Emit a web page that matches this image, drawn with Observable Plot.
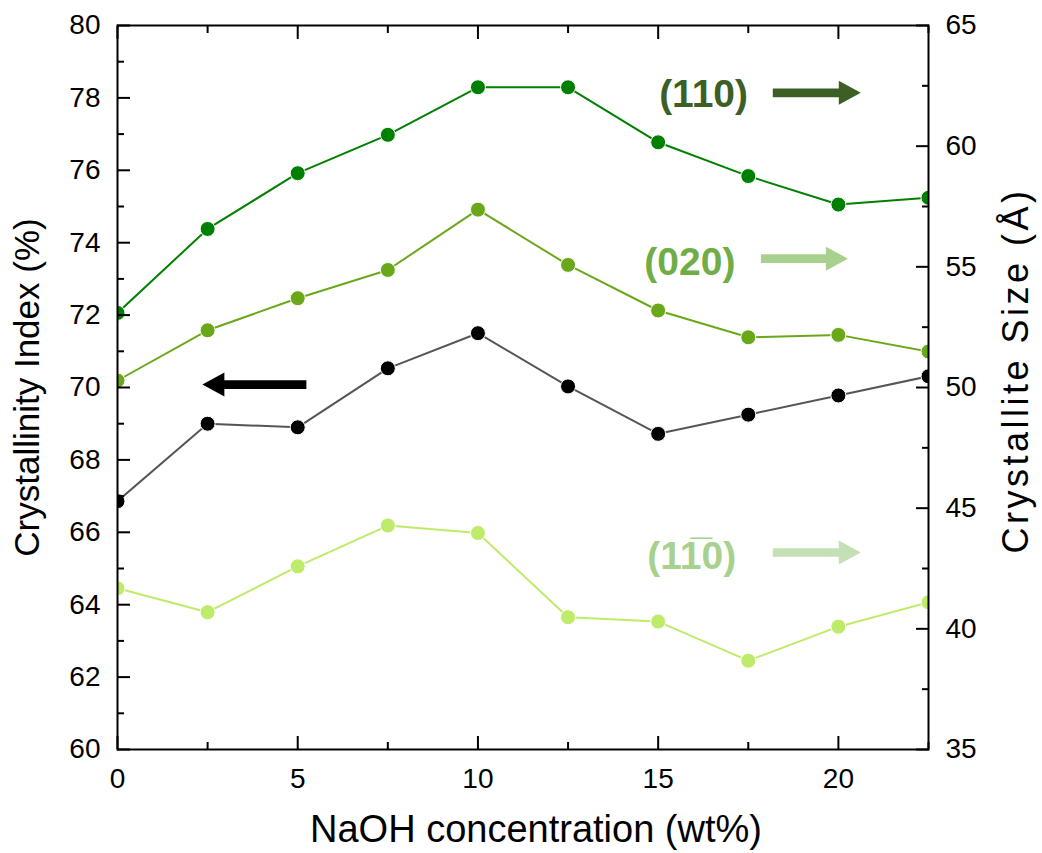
<!DOCTYPE html>
<html>
<head>
<meta charset="utf-8">
<script src="https://cdn.jsdelivr.net/npm/d3@7"></script>
<script src="https://cdn.jsdelivr.net/npm/@observablehq/plot@0.6"></script>
<style>
  html, body { margin: 0; padding: 0; background: #fff; }
  #chart { width: 1042px; height: 853px; }
</style>
</head>
<body>
<div id="chart"></div>
<script>
// ---- data ----
const naoh = [0, 2.5, 5, 7.5, 10, 12.5, 15, 17.5, 20, 22.5];
const crystallinity = [66.86, 69.0, 68.9, 70.53, 71.50, 70.03, 68.72, 69.25, 69.78, 70.31];
const size110 = [53.09, 56.57, 58.88, 60.47, 62.44, 62.44, 60.16, 58.76, 57.58, 57.86];
const size020 = [50.29, 52.37, 53.70, 54.87, 57.37, 55.08, 53.19, 52.08, 52.18, 51.49];
const size1m10 = [41.68, 40.69, 42.59, 44.28, 43.97, 40.48, 40.30, 38.68, 40.09, 41.10];

// ---- ticks ----
const xMajor = [0, 5, 10, 15, 20];
const xMinor = [2.5, 7.5, 12.5, 17.5, 22.5];
const leftMajor = [60, 62, 64, 66, 68, 70, 72, 74, 76, 78, 80];
const leftMinor = [61, 63, 65, 67, 69, 71, 73, 75, 77, 79];
const rightMajor = [35, 40, 45, 50, 55, 60, 65];
const rightMinor = [37.5, 42.5, 47.5, 52.5, 57.5, 62.5];

// ---- annotations (data units: x = NaOH, y = crystallinity axis) ----
const annLabels = ["(110)", "(020)", "(11\u03050)"];
const annX = [16.26, 15.88, 15.93];
const annY = [78.08, 73.45, 65.33];
const arrowX = [18.18, 17.85, 18.18];
const arrowY = [78.14, 73.56, 65.44];
const leftArrowX = [5.24];
const leftArrowY = [70.08];

// ---- helpers ----
const yDom = [60, 80], rDom = [35, 65];
const toLeft = v => yDom[0] + (v - rDom[0]) * (yDom[1] - yDom[0]) / (rDom[1] - rDom[0]);
const toRight = v => rDom[0] + (v - yDom[0]) * (rDom[1] - rDom[0]) / (yDom[1] - yDom[0]);

const rows = (ys, conv) => naoh.map((x, i) => ({x, y: conv ? toLeft(ys[i]) : ys[i]}));
const dBlack = rows(crystallinity, false);
const d110 = rows(size110, true);
const d020 = rows(size020, true);
const d1m10 = rows(size1m10, true);

const arrowShape = {
  draw(ctx, l) {
    const h = 22, hw = 12, sw = 4.3;
    ctx.moveTo(-sw, 0);
    ctx.lineTo(-sw, -(l - h));
    ctx.lineTo(-hw, -(l - h));
    ctx.lineTo(0, -l);
    ctx.lineTo(hw, -(l - h));
    ctx.lineTo(sw, -(l - h));
    ctx.lineTo(sw, 0);
    ctx.closePath();
  }
};

const C110 = "#008000", C020 = "#6aa819", C1m10 = "#bfeb6b";
const series = [
  {d: d1m10, line: C1m10, dot: C1m10},
  {d: dBlack, line: "#555555", dot: "#000000"},
  {d: d020, line: C020, dot: C020},
  {d: d110, line: C110, dot: C110}
];

const tickStyle = {stroke: "black", strokeWidth: 2, label: null};

const marks = [];
for (const s of series) {
  marks.push(Plot.line(s.d, {x: "x", y: "y", stroke: s.line, strokeWidth: 2, clip: true}));
  marks.push(Plot.dot(s.d, {x: "x", y: "y", r: 7.5, fill: s.dot, stroke: "white", strokeWidth: 1, clip: true}));
}

// axes with inward ticks
marks.push(
  Plot.axisX(xMajor, {anchor: "bottom", tickSize: -13, tickPadding: 32, fontSize: 28, ...tickStyle}),
  Plot.axisX(xMinor, {anchor: "bottom", tickSize: -7, fill: "none", ...tickStyle}),
  Plot.axisX(xMajor, {anchor: "top", tickSize: -13, fill: "none", ...tickStyle}),
  Plot.axisX(xMinor, {anchor: "top", tickSize: -7, fill: "none", ...tickStyle}),
  Plot.axisY(leftMajor, {anchor: "left", tickSize: -13, tickPadding: 30, fontSize: 28, ...tickStyle}),
  Plot.axisY(leftMinor, {anchor: "left", tickSize: -7, fill: "none", ...tickStyle}),
  Plot.axisY(rightMajor.map(toLeft), {anchor: "right", tickSize: -13, tickPadding: 30, fontSize: 28,
    tickFormat: d => String(Math.round(toRight(d))), ...tickStyle}),
  Plot.axisY(rightMinor.map(toLeft), {anchor: "right", tickSize: -7, fill: "none", ...tickStyle}),
  Plot.frame({stroke: "black", strokeWidth: 2})
);

// axis titles
marks.push(
  Plot.text(["Crystallinity Index (%)"], {text: d => d, frameAnchor: "left", textAnchor: "middle", lineAnchor: "middle",
    rotate: -90, dx: -90, fontSize: 35, fill: "black"}),
  Plot.text(["Crystallite Size (Å)"], {text: d => d, frameAnchor: "right", textAnchor: "middle", lineAnchor: "middle",
    rotate: -90, dx: 88, dy: -17, fontSize: 36, fill: "black"}),
  Plot.text(["NaOH concentration (wt%)"], {text: d => d, frameAnchor: "bottom", textAnchor: "middle", lineAnchor: "middle",
    dx: 13, dy: 80, fontSize: 38, fill: "black"})
);

// annotations
const annTextColors = ["#3c5f26", "#70ad47", "#a9d18e"];
const annArrowColors = ["#3c5f26", "#a9d18e", "#c5e0b4"];
const arrowLens = [88, 87, 88];
annLabels.forEach((t, i) => {
  marks.push(Plot.text([t], {x: annX[i], y: annY[i], text: d => d, fontSize: 39, fontWeight: "bold", fill: annTextColors[i]}));
  marks.push(Plot.vector([0], {x: arrowX[i], y: arrowY[i], length: arrowLens[i], rotate: 90, anchor: "start",
    shape: arrowShape, fill: annArrowColors[i], stroke: "none"}));
});
marks.push(Plot.vector([0], {x: leftArrowX[0], y: leftArrowY[0], length: 104, rotate: -90, anchor: "start",
  shape: arrowShape, fill: "black", stroke: "none"}));

const chart = Plot.plot({
  width: 1042,
  height: 853,
  marginLeft: 117,
  marginRight: 114,
  marginTop: 25,
  marginBottom: 104,
  style: {fontFamily: "'Liberation Sans', Arial, sans-serif", background: "white", color: "black", fontSize: "28px"},
  x: {domain: [0, 22.5]},
  y: {domain: yDom},
  marks
});
// the right-hand title is set wider in the reference
for (const t of chart.querySelectorAll("text")) {
  if (t.textContent === "Crystallite Size (Å)") t.style.letterSpacing = "3.5px";
}
document.getElementById("chart").appendChild(chart);
</script>
</body>
</html>
